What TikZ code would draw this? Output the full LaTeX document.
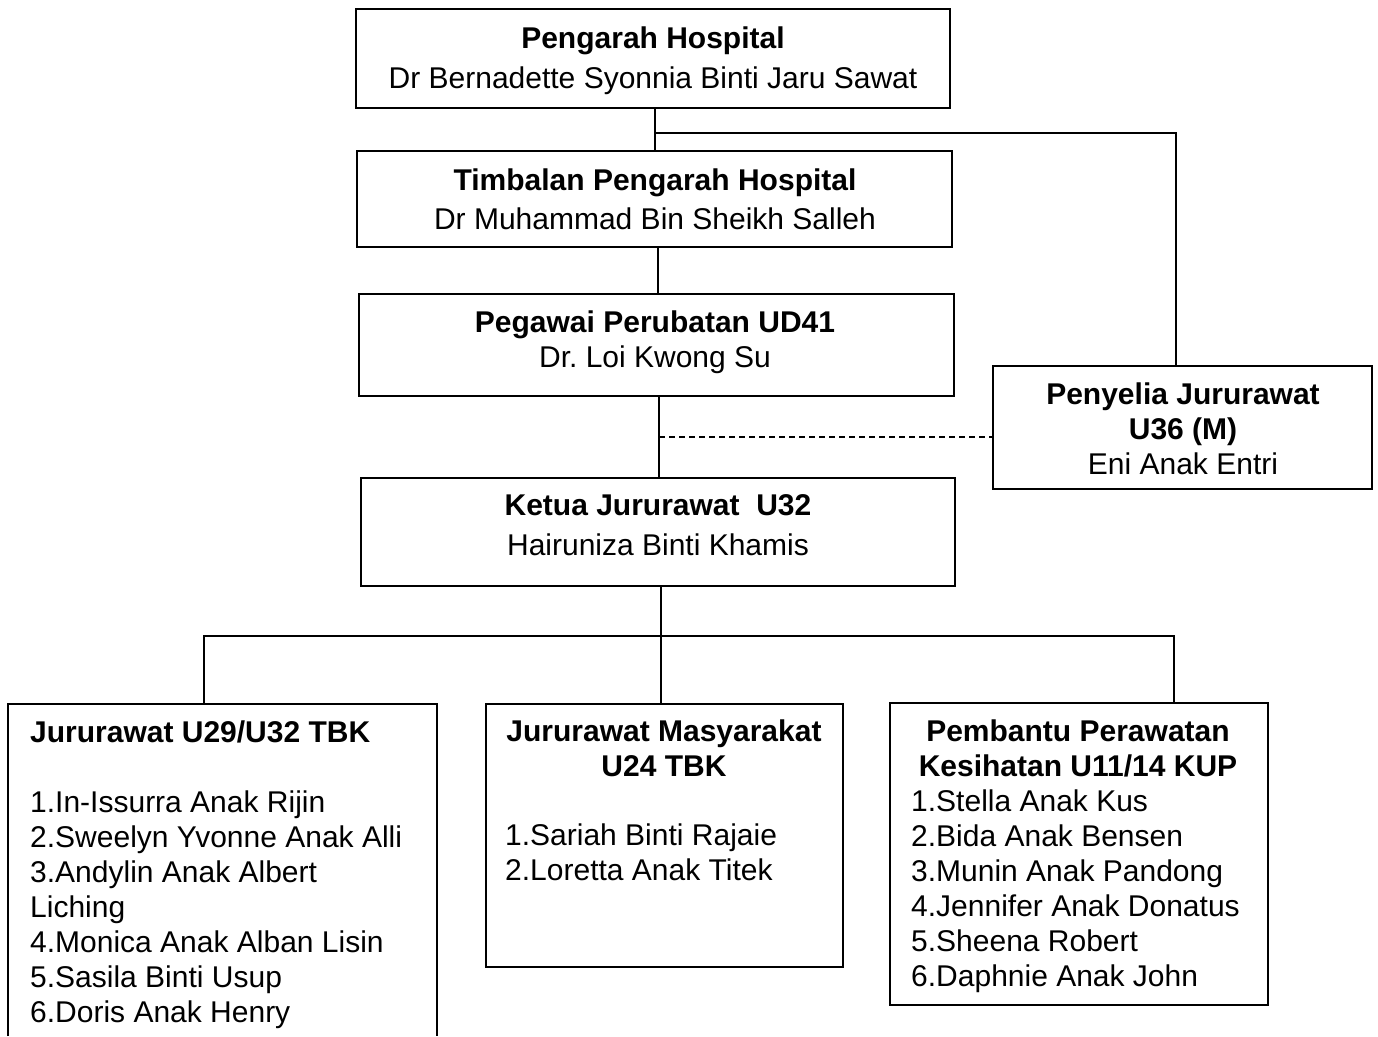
\documentclass[tikz,border=0pt]{standalone}
\usepackage{fontspec}
\setmainfont{Liberation Sans}
\begin{document}
\begin{tikzpicture}[x=1pt,y=-1pt,
  box/.style={draw, line width=1.7pt, inner sep=0pt},
  conn/.style={line width=1.5pt},
  dashconn/.style={line width=1.5pt, dash pattern=on 6pt off 4pt},
  txt/.style={inner sep=0pt, font=\fontsize{30}{35}\selectfont},
  ctxt/.style={txt, align=center, anchor=north},
  ltxt/.style={txt, align=left, anchor=north west}]
\useasboundingbox (0,0) rectangle (1378,1036);
% boxes
\node[box, minimum width=594pt, minimum height=99pt] (b1) at (653,58.5) {};
\node[box, minimum width=595pt, minimum height=96pt] (b2) at (654.5,199) {};
\node[box, minimum width=595pt, minimum height=102pt] (b3) at (656.5,345) {};
\node[box, minimum width=379pt, minimum height=123pt] (pj) at (1182.5,427.5) {};
\node[box, minimum width=594pt, minimum height=108pt] (kj) at (658,532) {};
\node[inner sep=0pt, minimum width=429pt, minimum height=332pt] (jl) at (222.5,870) {};
\draw[line width=1.7pt] (jl.south west) |- (jl.north east) -- (jl.south east);
\node[box, minimum width=357pt, minimum height=263pt] (jm) at (664.5,835.5) {};
\node[box, minimum width=378pt, minimum height=302pt] (pp) at (1079,854) {};
% texts
\node[ctxt] (t1) at (653,27) {\textbf{Pengarah Hospital}\\[5pt]Dr Bernadette Syonnia Binti Jaru Sawat};
\node[ctxt] (t2) at (655,169) {\textbf{Timbalan Pengarah Hospital}\\[4pt]Dr Muhammad Bin Sheikh Salleh};
\node[ctxt] (t3) at (655,311) {\textbf{Pegawai Perubatan UD41}\\Dr.\ Loi Kwong Su};
\node[ctxt] (tpj) at (1183,383) {\textbf{Penyelia Jururawat}\\\textbf{U36 (M)}\\Eni Anak Entri};
\node[ctxt] (tkj) at (658,494) {\textbf{Ketua Jururawat\ \ U32}\\[5pt]Hairuniza Binti Khamis};
\node[ltxt] (tjl) at (30,721) {\textbf{Jururawat U29/U32 TBK}\\[35pt]1.In-Issurra Anak Rijin\\2.Sweelyn Yvonne Anak Alli\\3.Andylin Anak Albert\\Liching\\4.Monica Anak Alban Lisin\\5.Sasila Binti Usup\\6.Doris Anak Henry};
\node[ctxt] (tjmh) at (664,720) {\textbf{Jururawat Masyarakat}\\\textbf{U24 TBK}};
\node[ltxt] (tjml) at (505,824) {1.Sariah Binti Rajaie\\2.Loretta Anak Titek};
\node[ctxt] (tpph) at (1078,720) {\textbf{Pembantu Perawatan}\\\textbf{Kesihatan U11/14 KUP}};
\node[ltxt] (tppl) at (911,790) {1.Stella Anak Kus\\2.Bida Anak Bensen\\3.Munin Anak Pandong\\4.Jennifer Anak Donatus\\5.Sheena Robert\\6.Daphnie Anak John};
% connectors
\coordinate (j1) at (655,133);
\coordinate (c2) at (658,0);
\coordinate (c3) at (659,437);
\coordinate (c4) at (661,0);
\coordinate (bus) at (661,636);
\coordinate (xl) at (204,0);
\coordinate (xr) at (1174,0);
\coordinate (xp) at (1176,0);
\draw[conn] (b1.south -| j1) -- (b2.north -| j1);
\draw[conn] (j1) -| (pj.north -| xp);
\draw[conn] (b2.south -| c2) -- (b3.north -| c2);
\draw[conn] (b3.south -| c3) -- (kj.north -| c3);
\draw[dashconn] (c3) -- (c3 -| pj.west);
\draw[conn] (kj.south -| c4) -- (jm.north -| c4);
\draw[conn] (jl.north -| xl) -- (bus -| xl) -- (bus -| xr) -- (pp.north -| xr);
\end{tikzpicture}
\end{document}
